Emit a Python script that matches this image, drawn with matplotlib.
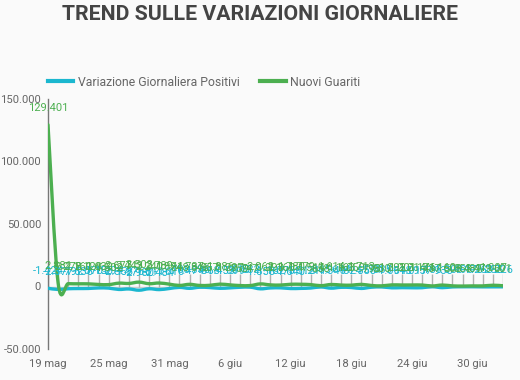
import matplotlib
matplotlib.use("Agg")
import matplotlib.pyplot as plt
from matplotlib.path import Path
from matplotlib.patches import PathPatch
from matplotlib.lines import Line2D
import datetime as dt

plt.rcParams['font.family'] = ['Roboto', 'DejaVu Sans']

# ---- data ----
start_date = dt.date(2020, 5, 19)
n_days = 46
mesi = {5: "mag", 6: "giu", 7: "lug"}

variazione_positivi = [
    -1424, -2377, -1792, -1638, -1570, -1158, -1294, -2358, -1976, -2980,
    -1811, -2484, -1616, -708, -1474, -596, -868, -1453, -1099, -615,
    -532, -1858, -1162, -1073, -1640, -1512, -1211, -365, -1340, -644,
    -824, -1558, -571, -335, -1064, -918, -1017, -957, -185, -933,
    -308, -195, -176, -263, -255, -226,
]
nuovi_guariti = [
    129401, 2881, 2278, 2160, 2120, 1639, 1502, 2677, 2443, 3503,
    2240, 2789, 1874, 848, 1737, 846, 957, 1886, 1297, 759,
    747, 2062, 1293, 1160, 1780, 1779, 1514, 658, 1614, 1163,
    1059, 1713, 798, 530, 1292, 1201, 1214, 1176, 437, 1160,
    508, 353, 489, 479, 1007, 601,
]
series_names = ["Variazione Giornaliera Positivi", "Nuovi Guariti"]
series_colors = ["#1bb7cf", "#4caf50"]
y_ticks = [-50000, 0, 50000, 100000, 150000]
x_tick_step = 6

dates = [start_date + dt.timedelta(days=i) for i in range(n_days)]
xs = list(range(n_days))


def fmt(v):
    return f"{v:,}".replace(",", ".")


def smooth_path(x, y, k=1/6):
    verts = [(x[0], y[0])]
    codes = [Path.MOVETO]
    n = len(x)
    for i in range(n - 1):
        a = i - 1 if i > 0 else i
        b = i + 2 if i + 2 < n else i + 1
        c1 = (x[i] + (x[i + 1] - x[a]) * k, y[i] + (y[i + 1] - y[a]) * k)
        c2 = (x[i + 1] - (x[b] - x[i]) * k, y[i + 1] - (y[b] - y[i]) * k)
        verts += [c1, c2, (x[i + 1], y[i + 1])]
        codes += [Path.CURVE4] * 3
    return Path(verts, codes)


W, H = 520, 380
fig = plt.figure(figsize=(W / 100, H / 100), dpi=100, facecolor="#fafafa")
ax = fig.add_axes([48 / W, 1 - 349 / H, 455 / W, 250 / H])
ax.set_facecolor("#fafafa")

ax.set_xlim(0, n_days - 1)
ax.set_ylim(-50000, 150000)

ax.axhline(0, color="#cccccc", lw=1, zorder=1)
ax.vlines(xs, 0, 10000, color="#b0b0b0", lw=1, zorder=1)

for vals, col in zip([variazione_positivi, nuovi_guariti], series_colors):
    p = PathPatch(smooth_path(xs, vals), fill=False, edgecolor=col, lw=2.4,
                  zorder=3, capstyle="round", joinstyle="round")
    ax.add_patch(p)
    for x, v in zip(xs, vals):
        ax.annotate(fmt(v), (x, v), xytext=(0, 17), textcoords="offset pixels",
                    ha="center", va="center", fontsize=8, color=col, zorder=4,
                    annotation_clip=False)

ax.set_yticks(y_ticks)
ax.set_yticklabels([fmt(v) for v in y_ticks])
tick_pos = xs[::x_tick_step]
ax.set_xticks(tick_pos)
ax.set_xticklabels([f"{dates[i].day} {mesi[dates[i].month]}" for i in tick_pos])
ax.tick_params(axis="both", length=0, labelsize=8.1, colors="#666666")
ax.tick_params(axis="x", pad=7)
ax.tick_params(axis="y", pad=5)
for s in ["top", "right", "bottom"]:
    ax.spines[s].set_visible(False)
ax.spines["left"].set_color("#777777")
ax.spines["left"].set_linewidth(1)

fig.text(0.5, 1 - 14 / H, "TREND SULLE VARIAZIONI GIORNALIERE", ha="center",
         va="center", fontsize=15.35, fontweight="bold", color="#444444")

handles = [Line2D([], [], color=c, lw=3) for c in series_colors]
fig.legend(handles, series_names, loc="center left",
           bbox_to_anchor=(48 / W, 1 - 82 / H), ncol=2, frameon=False,
           fontsize=8.8, labelcolor="#666666", handlelength=2.05,
           handletextpad=0.4, columnspacing=1.7, borderpad=0, borderaxespad=0)

fig.savefig("out.png", dpi=100, facecolor=fig.get_facecolor())
